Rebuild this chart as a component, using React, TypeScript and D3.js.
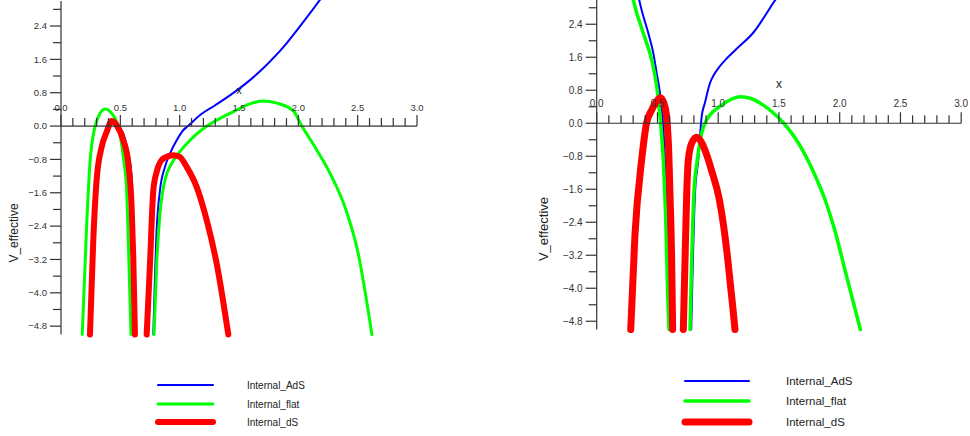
import React from "react";
import * as d3 from "d3";

type Pt = [number, number];

// ---------- data ----------
const seriesNames = ["Internal_AdS", "Internal_flat", "Internal_dS"];

const xMajorTicks = [0, 0.5, 1.0, 1.5, 2.0, 2.5, 3.0];
const xMajorLabels = ["0.0", "0.5", "1.0", "1.5", "2.0", "2.5", "3.0"];
const yMajorTicks = [-4.8, -4.0, -3.2, -2.4, -1.6, -0.8, 0.0, 0.8, 1.6, 2.4];
const yMajorLabels = ["\u22124.8", "\u22124.0", "\u22123.2", "\u22122.4", "\u22121.6", "\u22120.8", "0.0", "0.8", "1.6", "2.4"];
const yMinorTicks = [-4.4, -3.6, -2.8, -2.0, -1.2, -0.4, 0.4, 1.2, 2.0, 2.8];

// Left panel
const leftAdSA: Pt[] = [[0.244, -5], [0.272, -2.74], [0.3, -1.3], [0.343, -0.5], [0.385, -0.14], [0.427, 0.1], [0.47, 0.02], [0.52, -0.15], [0.56, -0.55], [0.592, -1.1], [0.603, -1.7], [0.61, -2.5], [0.616, -3.5], [0.623, -5]];
const leftAdSB: Pt[] = [[0.778, -5], [0.806, -2.5], [0.834, -1.54], [0.876, -0.98], [0.918, -0.66], [0.975, -0.34], [1.03, -0.1], [1.07, 0.0], [1.17, 0.26], [1.3, 0.5], [1.45, 0.79], [1.6, 1.12], [1.73, 1.46], [1.87, 1.88], [2.01, 2.38], [2.18, 3.02], [2.25, 3.3]];
const leftFlatA: Pt[] = [[0.179, -5], [0.217, -2.33], [0.244, -0.89], [0.286, -0.02], [0.314, 0.22], [0.371, 0.41], [0.44, 0.26], [0.483, -0.02], [0.525, -0.74], [0.553, -1.54], [0.567, -2.74], [0.59, -5]];
const leftFlatB: Pt[] = [[0.784, -5], [0.806, -3.3], [0.834, -2.1], [0.876, -1.3], [0.932, -0.9], [1.0, -0.62], [1.087, -0.34], [1.2, -0.06], [1.35, 0.2], [1.45, 0.34], [1.58, 0.52], [1.7, 0.6], [1.82, 0.55], [1.96, 0.36], [2.03, 0.0], [2.15, -0.55], [2.27, -1.15], [2.4, -2.0], [2.5, -3.0], [2.62, -5]];
const leftDSA: Pt[] = [[0.244, -5], [0.272, -2.74], [0.3, -1.3], [0.343, -0.5], [0.385, -0.14], [0.427, 0.12], [0.469, 0.02], [0.525, -0.34], [0.567, -0.89], [0.595, -1.94], [0.609, -3.14], [0.623, -5]];
const leftDSB: Pt[] = [[0.722, -5], [0.75, -3.3], [0.778, -1.54], [0.806, -1.1], [0.862, -0.78], [0.946, -0.7], [1.0, -0.74], [1.059, -0.98], [1.143, -1.46], [1.228, -2.26], [1.312, -3.3], [1.41, -5]];

// Right panel
const rightAdSA: Pt[] = [[0.33, 3.3], [0.35, 2.99], [0.425, 2.18], [0.466, 1.7], [0.494, 1.21], [0.521, 0.73], [0.548, -0.08], [0.562, -0.89], [0.575, -2.0], [0.585, -3.5], [0.595, -5]];
const rightAdSB: Pt[] = [[0.778, -5], [0.785, -4.1], [0.809, -1.7], [0.836, -0.89], [0.864, 0.16], [0.891, 0.5], [0.932, 0.97], [0.97, 1.2], [1.01, 1.37], [1.08, 1.6], [1.15, 1.8], [1.29, 2.2], [1.47, 2.99], [1.52, 3.2]];
const rightFlatA: Pt[] = [[0.28, 3.3], [0.301, 2.99], [0.384, 2.18], [0.453, 1.53], [0.494, 0.89], [0.521, 0.16], [0.548, -0.89], [0.57, -2.5], [0.584, -4.12], [0.595, -5]];
const rightFlatB: Pt[] = [[0.768, -5], [0.782, -3.31], [0.8, -1.7], [0.828, -0.89], [0.864, -0.24], [0.905, 0.08], [0.932, 0.2], [1.01, 0.4], [1.1, 0.57], [1.18, 0.64], [1.27, 0.6], [1.35, 0.48], [1.45, 0.26], [1.54, 0.0], [1.7, -0.68], [1.81, -1.35], [1.88, -1.86], [1.96, -2.6], [2.06, -3.75], [2.17, -5]];
const rightDSA: Pt[] = [[0.28, -5], [0.315, -2.7], [0.37, -0.89], [0.41, 0.0], [0.453, 0.32], [0.507, 0.58], [0.525, 0.62], [0.562, 0.4], [0.59, -0.48], [0.603, -1.7], [0.617, -3.31], [0.625, -5]];
const rightDSB: Pt[] = [[0.713, -5], [0.727, -3.31], [0.741, -1.7], [0.754, -0.89], [0.782, -0.48], [0.823, -0.34], [0.86, -0.45], [0.9, -0.72], [0.946, -1.15], [1.01, -1.86], [1.045, -2.5], [1.075, -3.2], [1.1, -3.9], [1.12, -4.45], [1.138, -5]];

const leftSeries = [[leftAdSA, leftAdSB], [leftFlatA, leftFlatB], [leftDSA, leftDSB]];
const rightSeries = [[rightAdSA, rightAdSB], [rightFlatA, rightFlatB], [rightDSA, rightDSB]];

// ---------- styles ----------
const colors = ["#0000ff", "#00ff00", "#ff0000"];
const FONT = "'Liberation Sans', Arial, Helvetica, sans-serif";
const AXIS = "#333";

type PanelProps = {
  series: Pt[][][];
  x0: number; x1: number; yTop: number; yBot: number;
  widths: number[];
  tickFont: number; labelFont: number; xLabelFont: number; legendFont: number;
  xLabelDy: number; tickLabelDy: number;
  yLabelX: number; yLabelY: number;
  legX0: number; legX1: number; legYs: number[]; legTextX: number;
};

function Panel(p: PanelProps) {
  const xs = d3.scaleLinear().domain([0, 3]).range([p.x0, p.x1]);
  const ys = d3.scaleLinear().domain([-5, 3]).range([p.yBot, p.yTop]);
  const line = d3.line<Pt>().x(d => xs(d[0])).y(d => ys(d[1])).curve(d3.curveMonotoneX);
  const y0 = ys(0);
  const xMinor = d3.range(0, 31).map(i => i / 10).filter(v => Math.abs(v * 2 - Math.round(v * 2)) > 1e-6);
  return (
    <g>
      {/* curves */}
      {p.series.map((branches, si) => (
        <g key={si}>
          {branches.map((b, bi) => (
            <path key={bi} d={line(b) || ""} fill="none" stroke={colors[si]} strokeWidth={p.widths[si]} strokeLinecap="round" strokeLinejoin="round" />
          ))}
        </g>
      ))}
      {/* y axis */}
      <line x1={xs(0)} x2={xs(0)} y1={ys(3)} y2={ys(-5)} stroke={AXIS} strokeWidth={1.2} />
      {yMajorTicks.map((t, i) => (
        <g key={"ym" + i}>
          <line x1={xs(0) - 11} x2={xs(0)} y1={ys(t)} y2={ys(t)} stroke={AXIS} strokeWidth={1.2} />
          <text x={xs(0) - 14} y={ys(t) + p.tickFont * 0.35} textAnchor="end" fontSize={p.tickFont} fontFamily={FONT} fill="#333">{yMajorLabels[i]}</text>
        </g>
      ))}
      {yMinorTicks.map((t, i) => (
        <line key={"yn" + i} x1={xs(0) - 8} x2={xs(0)} y1={ys(t)} y2={ys(t)} stroke={AXIS} strokeWidth={1.2} />
      ))}
      {/* x axis */}
      <line x1={xs(0)} x2={xs(3)} y1={y0} y2={y0} stroke={AXIS} strokeWidth={1.2} />
      {xMajorTicks.map((t, i) => (
        <g key={"xm" + i}>
          <line x1={xs(t)} x2={xs(t)} y1={y0 - 11} y2={y0} stroke={AXIS} strokeWidth={1.2} />
          <text x={xs(t)} y={y0 - p.tickLabelDy} textAnchor="middle" fontSize={p.tickFont} fontFamily={FONT} fill="#333">{xMajorLabels[i]}</text>
        </g>
      ))}
      {xMinor.map((t, i) => (
        <line key={"xn" + i} x1={xs(t)} x2={xs(t)} y1={y0 - 8} y2={y0} stroke={AXIS} strokeWidth={1.2} />
      ))}
      <text x={xs(1.5)} y={y0 - p.xLabelDy} textAnchor="middle" fontSize={p.xLabelFont} fontFamily={FONT} fill="#222">x</text>
      <text transform={`translate(${p.yLabelX},${p.yLabelY}) rotate(-90)`} textAnchor="middle" fontSize={p.labelFont} fontFamily={FONT} fill="#222">V_effective</text>
      {/* legend */}
      {seriesNames.map((n, i) => (
        <g key={"lg" + i}>
          <line x1={p.legX0} x2={p.legX1} y1={p.legYs[i]} y2={p.legYs[i]} stroke={colors[i]} strokeWidth={p.widths[i]} strokeLinecap="round" />
          <text x={p.legTextX} y={p.legYs[i] + p.legendFont * 0.35} fontSize={p.legendFont} fontFamily={FONT} fill="#222">{n}</text>
        </g>
      ))}
    </g>
  );
}

export default function App() {
  return (
    <svg width={970} height={436} style={{ position: "absolute", left: 0, top: 0, background: "#fff" }}>
      <rect width={970} height={436} fill="#fff" />
      <Panel series={leftSeries} x0={61} x1={417} yTop={1} yBot={334.5} widths={[2, 3, 6]}
        tickFont={9.5} labelFont={12} xLabelFont={11} legendFont={10}
        xLabelDy={32} tickLabelDy={15}
        yLabelX={18} yLabelY={233}
        legX0={158} legX1={213} legYs={[385, 404, 422]} legTextX={247} />
      <Panel series={rightSeries} x0={596.7} x1={961.2} yTop={-0.5} yBot={329.5} widths={[2, 3.5, 7]}
        tickFont={10} labelFont={13} xLabelFont={12} legendFont={11.5}
        xLabelDy={35} tickLabelDy={16.5}
        yLabelX={548} yLabelY={229}
        legX0={685} legX1={749} legYs={[381, 401, 422]} legTextX={786} />
    </svg>
  );
}
